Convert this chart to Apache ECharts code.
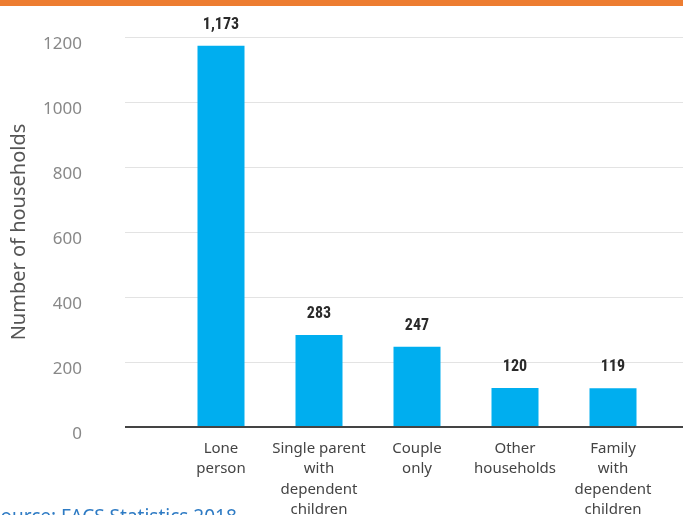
<!DOCTYPE html>
<html><head><meta charset="utf-8">
<script src="https://cdn.jsdelivr.net/npm/echarts@6/dist/echarts.min.js"></script>
<style>html,body{margin:0;padding:0;background:#fff}#c{width:683px;height:515px}</style>
</head><body><div id="c"></div>
<script>
const categories = ["Lone\nperson", "Single parent\nwith\ndependent\nchildren", "Couple\nonly", "Other\nhouseholds", "Family\nwith\ndependent\nchildren"];
const values = [1173, 283, 247, 120, 119];
const yTicks = [0, 200, 400, 600, 800, 1000, 1200];
const yTitle = "Number of households";
const sourceText = "Source: FACS Statistics 2018";

const chart = echarts.init(document.getElementById('c'), null, {renderer: 'canvas'});
const fontFam = '"Century Gothic", "Noto Sans", "DejaVu Sans", sans-serif';
chart.setOption({
  animation: false,
  grid: [
    {left: 125, right: 0, top: 37, bottom: 88, containLabel: false, outerBoundsMode: 'none'},
    {left: 172, width: 490, top: 37, bottom: 88, containLabel: false, outerBoundsMode: 'none'}
  ],
  xAxis: [
    {gridIndex: 0, type: 'value', min: 0, max: 1, show: true,
     axisLine: {show: false}, axisTick: {show: false}, axisLabel: {show: false}, splitLine: {show: false}},
    {gridIndex: 1, type: 'category', data: categories,
     axisLine: {show: false}, axisTick: {show: false},
     axisLabel: {color: '#444', fontSize: 15, lineHeight: 20.5, margin: 11, fontFamily: fontFam, interval: 0}}
  ],
  yAxis: [
    {gridIndex: 0, type: 'value', min: 0, max: 1200, interval: 200,
     name: yTitle, nameLocation: 'middle', nameGap: 96, nameRotate: 90,
     nameTextStyle: {color: '#555', fontSize: 20, fontFamily: fontFam},
     axisLine: {show: false}, axisTick: {show: false},
     axisLabel: {color: '#888', fontSize: 17, margin: 43, fontFamily: fontFam, verticalAlign: 'top', lineHeight: 15,
       formatter: v => yTicks.includes(v) ? String(v) : ''},
     splitLine: {lineStyle: {color: '#e3e3e3', width: 1}}},
    {gridIndex: 1, type: 'value', min: 0, max: 1200, interval: 200, show: false}
  ],
  series: [
    {type: 'line', xAxisIndex: 0, yAxisIndex: 0, data: [[0, 0], [1, 0]], symbol: 'none',
     lineStyle: {color: '#444', width: 2}, silent: true, z: 5},
    {type: 'bar', xAxisIndex: 1, yAxisIndex: 1, data: values, barWidth: 47,
     itemStyle: {color: '#00AEEF'},
     label: {show: true, position: 'top', distance: 13, color: '#2a2a2a', fontSize: 16, fontWeight: 'bold',
       fontFamily: '"Roboto Condensed", "Liberation Sans Narrow", "Roboto", sans-serif',
       formatter: p => p.value.toLocaleString('en-US')}}
  ],
  graphic: [
    {type: 'rect', left: 0, top: 0, shape: {width: 683, height: 6}, style: {fill: '#ED7D31'}},
    {type: 'text', left: -10, top: 508, style: {text: sourceText, fill: '#2E7BC4', fontSize: 19, fontFamily: fontFam}}
  ]
});
</script></body></html>
